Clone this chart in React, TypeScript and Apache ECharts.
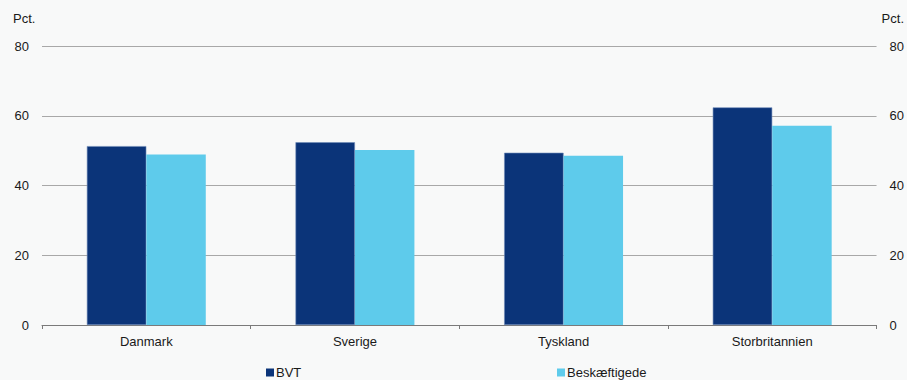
import React, { useEffect, useRef } from "react";
import * as echarts from "echarts";

const categories = ["Danmark", "Sverige", "Tyskland", "Storbritannien"];
const bvt = [51.3, 52.4, 49.4, 62.4];
const beskaeftigede = [48.9, 50.2, 48.5, 57.1];
const yTicks = [0, 20, 40, 60, 80];
const seriesNames = ["BVT", "Beskæftigede"];

const FONT = "'Liberation Sans', Arial, sans-serif";
const TEXT = "#1a1a1a";

export default function App() {
  const ref = useRef<HTMLDivElement>(null);
  useEffect(() => {
    if (!ref.current) return;
    const chart = echarts.init(ref.current, null, { renderer: "svg" });
    const yAxisBase = {
      type: "value",
      min: yTicks[0],
      max: yTicks[yTicks.length - 1],
      interval: 20,
      axisLine: { show: false },
      axisTick: { show: false },
      axisLabel: { color: TEXT, fontSize: 13, fontFamily: FONT, margin: 13 },
    };
    const legendBase = {
      top: 366,
      itemWidth: 8,
      itemHeight: 8,
      icon: "rect",
      itemStyle: { borderWidth: 0 },
      textStyle: { color: TEXT, fontSize: 13, fontFamily: FONT, padding: [0, 0, 0, -3] },
      padding: 0,
    };
    chart.setOption({
      animation: false,
      backgroundColor: "#f8f9f9",
      textStyle: { fontFamily: FONT },
      grid: { left: 42, right: 29, top: 46, bottom: 55, containLabel: false },
      xAxis: {
        type: "category",
        data: categories,
        axisLine: { lineStyle: { color: "#7a7a7a", width: 1 } },
        axisTick: { show: true, length: 4, lineStyle: { color: "#7a7a7a" } },
        axisLabel: { color: TEXT, fontSize: 13, fontFamily: FONT, margin: 10 },
      },
      yAxis: [
        {
          ...yAxisBase,
          position: "left",
          splitLine: { lineStyle: { color: "#a8a8a8", width: 1 } },
        },
        {
          ...yAxisBase,
          position: "right",
          splitLine: { show: false },
        },
      ],
      legend: [
        { ...legendBase, data: [seriesNames[0]], left: 266 },
        { ...legendBase, data: [seriesNames[1]], left: 557 },
      ],
      graphic: [
        {
          type: "text",
          left: 13,
          top: 12,
          style: { text: "Pct.", fill: TEXT, font: `13px ${FONT}` },
        },
        {
          type: "text",
          right: 3,
          top: 12,
          style: { text: "Pct.", fill: TEXT, font: `13px ${FONT}` },
        },
      ],
      series: [
        {
          name: seriesNames[0],
          type: "bar",
          data: bvt,
          barGap: "0%",
          barCategoryGap: "43%",
          itemStyle: { color: "#0b3479", borderColor: "#6f8cb8", borderWidth: 0.6 },
        },
        {
          name: seriesNames[1],
          type: "bar",
          data: beskaeftigede,
          barGap: "0%",
          barCategoryGap: "43%",
          itemStyle: { color: "#5ecbeb" },
        },
      ],
    });
    return () => chart.dispose();
  }, []);
  return <div ref={ref} style={{ width: 907, height: 380, position: "absolute", left: 0, top: 0 }} />;
}
